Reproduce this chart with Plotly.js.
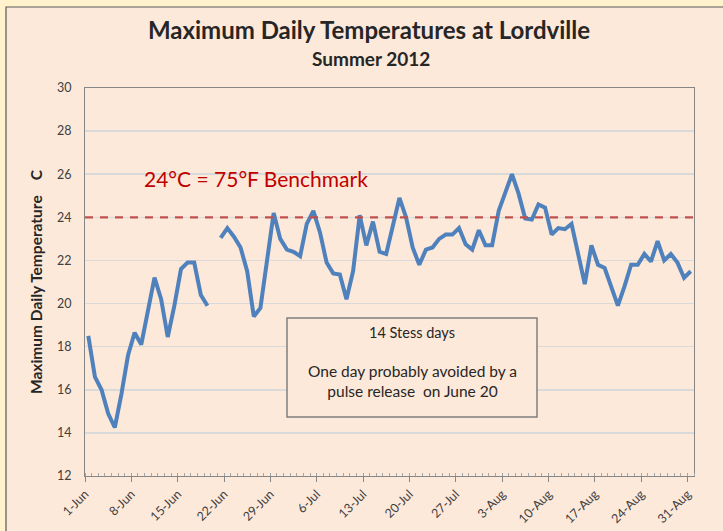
<!DOCTYPE html>
<html>
<head>
<meta charset="utf-8">
<script src="https://cdn.plot.ly/plotly-3.0.1.min.js"></script>
<style>html,body{margin:0;padding:0;background:#fff2cc;}#chart{width:723px;height:531px;}</style>
</head>
<body>
<div id="chart"></div>
<script>
// ---- data ----
var startDate = '2012-06-01';
var maxTemps = [
  18.5, 16.6, 16.0, 14.9, 14.25, 15.8, 17.6, 18.65, 18.1, 19.7,
  21.2, 20.2, 18.45, 19.9, 21.6, 21.9, 21.9, 20.4, 19.9, null,
  23.05, 23.5, 23.1, 22.6, 21.5, 19.4, 19.8, 21.9, 24.2, 23.0,
  22.5, 22.4, 22.2, 23.7, 24.3, 23.3, 21.9, 21.4, 21.35, 20.2,
  21.5, 24.1, 22.7, 23.8, 22.4, 22.3, 23.7, 24.9, 24.0, 22.6,
  21.8, 22.5, 22.6, 23.0, 23.2, 23.2, 23.5, 22.75, 22.5, 23.4,
  22.7, 22.7, 24.3, 25.2, 26.0, 25.1, 23.95, 23.9, 24.6, 24.45,
  23.2, 23.5, 23.45, 23.7, 22.25, 20.9, 22.7, 21.8, 21.65, 20.8,
  19.9, 20.8, 21.8, 21.8, 22.3, 21.95, 22.9, 22.0, 22.3, 21.9,
  21.2, 21.5
];
var tickDates = ['2012-06-01','2012-06-08','2012-06-15','2012-06-22','2012-06-29','2012-07-06','2012-07-13',
                 '2012-07-20','2012-07-27','2012-08-03','2012-08-10','2012-08-17','2012-08-24','2012-08-31'];
var tickLabels = ['1-Jun','8-Jun','15-Jun','22-Jun','29-Jun','6-Jul','13-Jul',
                  '20-Jul','27-Jul','3-Aug','10-Aug','17-Aug','24-Aug','31-Aug'];
var benchmark = 24;
var benchmarkLabel = '24°C = 75°F Benchmark';
var noteTitle = '14 Stess days';
var noteBody = 'One day probably avoided by a<br>pulse release  on June 20';

// dates (one per day, plotted mid-day)
var dates = [];
var d0 = new Date(startDate + 'T00:00:00Z');
for (var i = 0; i < maxTemps.length; i++) {
  var d = new Date(d0.getTime() + i * 86400000);
  dates.push(d.toISOString().slice(0, 10) + ' 12:00');
}

var FONT = 'Lato, "Open Sans", sans-serif';

var trace = {
  x: dates, y: maxTemps, type: 'scatter', mode: 'lines',
  connectgaps: false,
  line: {color: '#4f81bd', width: 4},
  hoverinfo: 'x+y'
};

// pixel -> paper helpers for decorations
var L = 85, R = 694, T = 88, B = 476;
function px(x){ return (x - L) / (R - L); }
function py(y){ return (B - y) / (B - T); }

var layout = {
  width: 723, height: 531,
  margin: {l: L, r: 723 - R, t: T, b: 531 - B},
  paper_bgcolor: '#fff2cc',
  plot_bgcolor: '#ffffff',
  showlegend: false,
  font: {family: FONT, color: '#404040'},
  title: {
    text: '<b>Maximum Daily Temperatures at Lordville</b>',
    font: {family: FONT, size: 24, color: '#262626'},
    x: 369/723, xanchor: 'center', xref: 'container',
    y: 1 - 31/531, yanchor: 'middle', yref: 'container'
  },
  xaxis: {
    type: 'date',
    range: ['2012-06-01', '2012-09-01'],
    tickmode: 'array', tickvals: tickDates, ticktext: tickLabels,
    tickangle: -45,
    tickfont: {family: FONT, size: 12.5, color: '#404040'},
    ticks: 'outside', ticklen: 5, tickcolor: '#868686',
    minor: {tickmode: 'linear', tick0: '2012-06-01', dtick: 86400000, ticks: 'inside', ticklen: 3, tickcolor: '#a6a6a6', showgrid: false},
    showgrid: false, zeroline: false,
    showline: true, linecolor: '#868686', linewidth: 1, mirror: true
  },
  yaxis: {
    range: [12, 30], dtick: 2, tick0: 12,
    tickfont: {family: FONT, size: 12.5, color: '#404040'},
    ticks: '', ticklabelstandoff: 10,
    showgrid: true, gridcolor: '#d9d9d9', gridwidth: 1.5,
    zeroline: false,
    showline: true, linecolor: '#868686', linewidth: 1, mirror: true,
    title: {text: '<b>Maximum Daily Temperature \u00a0\u00a0 C</b>', font: {family: FONT, size: 15.5, color: '#262626'}, standoff: 10}
  },
  shapes: [
    {type: 'rect', xref: 'paper', yref: 'paper', layer: 'below',
     x0: px(6), x1: px(740), y0: py(545), y1: py(7),
     fillcolor: '#fde9d9', line: {color: '#595959', width: 1.2}},
    {type: 'line', xref: 'paper', yref: 'y', x0: 0, x1: 1, y0: benchmark, y1: benchmark,
     line: {color: '#c0504d', width: 2.4, dash: '8px,7px'}},
    {type: 'rect', xref: 'paper', yref: 'paper', layer: 'above',
     x0: px(287), x1: px(537), y0: py(417), y1: py(318),
     fillcolor: '#fde9d9', line: {color: '#7f7f7f', width: 1.5}}
  ],
  annotations: [
    {text: '<b>Summer 2012</b>', xref: 'paper', yref: 'paper', x: px(371), y: py(58),
     xanchor: 'center', yanchor: 'middle', showarrow: false,
     font: {family: FONT, size: 19, color: '#262626'}},
    {text: benchmarkLabel, xref: 'paper', yref: 'paper', x: px(142), y: py(178),
     xanchor: 'left', yanchor: 'middle', showarrow: false,
     font: {family: FONT, size: 21, color: '#c00000'}},
    {text: noteTitle, xref: 'paper', yref: 'paper', x: px(412), y: py(332),
     xanchor: 'center', yanchor: 'middle', showarrow: false,
     font: {family: FONT, size: 14.5, color: '#262626'}},
    {text: noteBody, xref: 'paper', yref: 'paper', x: px(412), y: py(381),
     xanchor: 'center', yanchor: 'middle', showarrow: false, align: 'center',
     font: {family: FONT, size: 15.5, color: '#262626'}}
  ]
};

Plotly.newPlot('chart', [trace], layout, {displayModeBar: false, staticPlot: true});
</script>
</body>
</html>
